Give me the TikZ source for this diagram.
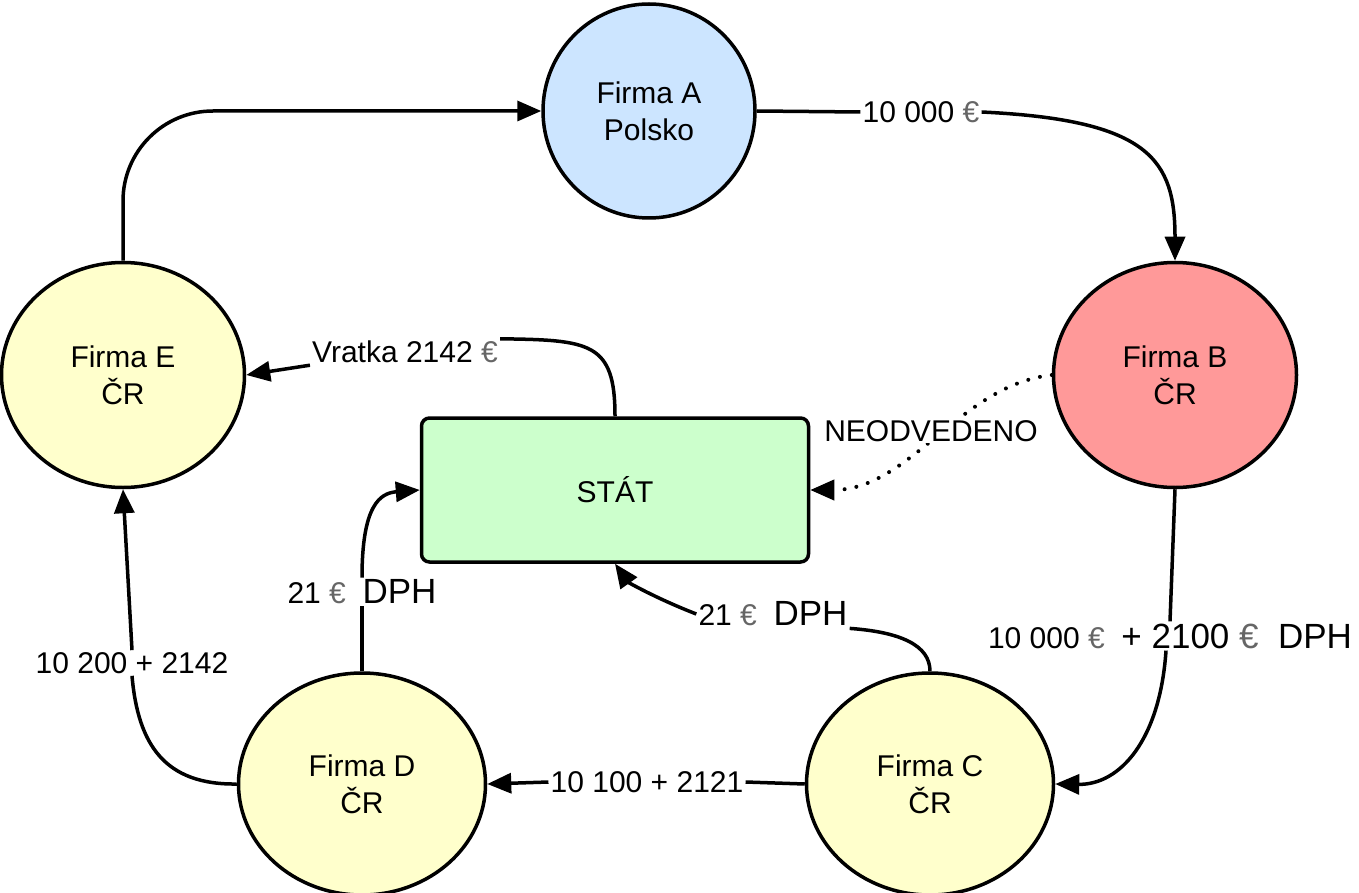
\documentclass[tikz,border=0pt]{standalone}
\usepackage{fontspec}
\setmainfont{Liberation Sans}
\usetikzlibrary{arrows.meta,shapes.geometric}
\definecolor{fblue}{HTML}{CCE5FF}
\definecolor{fred}{HTML}{FF9999}
\definecolor{fyel}{HTML}{FFFFCC}
\definecolor{fgreen}{HTML}{CCFFCC}
\definecolor{eurogray}{HTML}{666666}
\newcommand\eur{\textcolor{eurogray}{€}}
\newcommand\bigtxt{\fontsize{35}{40}\selectfont}
\begin{document}
\begin{tikzpicture}[x=1pt,y=-1pt,
  every node/.style={font=\fontsize{30}{37}\selectfont},
  firm/.style={ellipse,draw,line width=3.5pt,inner sep=0pt,align=center},
  lab/.style={inner sep=2pt},
  arr/.style={-{Triangle[length=24pt,width=20pt]}},
  conn/.style={line width=3.5pt}]
\useasboundingbox (0,0) rectangle (1359,893);
\node[firm,fill=fblue,minimum width=212pt,minimum height=214pt] (A) at (649,111) {Firma A\\Polsko};
\node[firm,fill=fred,minimum width=243pt,minimum height=225pt] (B) at (1175,375) {Firma B\\ČR};
\node[firm,fill=fyel,minimum width=243pt,minimum height=225pt] (E) at (123,375) {Firma E\\ČR};
\node[firm,fill=fyel,minimum width=247pt,minimum height=222pt] (D) at (362,784) {Firma D\\ČR};
\node[firm,fill=fyel,minimum width=247pt,minimum height=222pt] (C) at (930,784) {Firma C\\ČR};
\node[draw,line width=3.5pt,fill=fgreen,rounded corners=8pt,minimum width=387pt,minimum height=144pt] (S) at (615,490) {STÁT};
% labels
\node[lab] (lAB) at (921,112) {10 000 \eur};
\node[lab] (lBC) at (1170,636) {10 000 \eur\ \ {\bigtxt + 2100 \eur\ \ DPH}};
\node[lab] (lCD) at (647,782) {10 100 + 2121};
\node[lab] (lDE) at (132,663) {10 200 + 2142};
\node[lab] (lDS) at (362,592) {21 \eur\ \ {\bigtxt DPH}};
\node[lab] (lCS) at (773,614) {21 \eur\ \ {\bigtxt DPH}};
\node[lab] (lSE) at (405,352) {Vratka 2142 \eur};
% connectors
\draw[conn,arr,rounded corners=90pt] (E.north) |- (A.west);
\draw[conn] (A.east) -- (lAB.west);
\draw[conn,arr] (lAB.east) .. controls (1150,120) and (1175,160) .. (B.north);
\draw[conn] (B.south) -- (lBC.north);
\draw[conn,arr] ([xshift=-4pt]lBC.south) .. controls (1160,740) and (1120,785) .. (C.east);
\draw[conn] (C.west) -- (lCD.east);
\draw[conn,arr] (lCD.west) -- (D.east);
\draw[conn] (D.west) .. controls (165,785) and (138,745) .. (lDE.south);
\draw[conn,arr] (lDE.north) -- (E.south);
\draw[conn] (D.north) -- (lDS.south);
\draw[conn,arr] (lDS.north) .. controls (362,505) and (380,493) .. (S.west);
\draw[conn] (C.north) .. controls (930,645) and (900,632) .. (lCS.south east);
\draw[conn,arr] (lCS.west) .. controls (655,598) and (628,582) .. (S.south);
\draw[conn] (S.north) .. controls (615,342) and (590,340) .. (lSE.north east);
\draw[conn,arr] (lSE.south west) -- (E.east);
\draw[line width=4pt,line cap=round,dash pattern=on 0pt off 12pt,-{Triangle[length=24pt,width=20pt,line cap=butt]}] (B.west) .. controls (960,385) and (910,490) .. (S.east);
\node[lab,fill=white,inner sep=1pt] (lNEO) at (931,431) {NEODVEDENO};
\end{tikzpicture}
\end{document}
